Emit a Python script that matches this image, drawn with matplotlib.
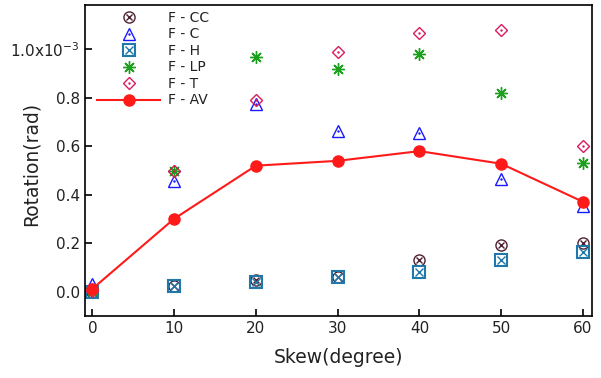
import matplotlib
matplotlib.use('Agg')
import matplotlib.pyplot as plt
from matplotlib.legend_handler import HandlerTuple
from matplotlib.ticker import FixedLocator

plt.rcParams['font.family'] = ['DejaVu Sans']
plt.rcParams['mathtext.default'] = 'regular'

skew = [0, 10, 20, 30, 40, 50, 60]
f_cc = [0.000, 0.022, 0.050, 0.060, 0.132, 0.193, 0.202]
f_c = [0.030, 0.455, 0.775, 0.664, 0.656, 0.466, 0.355]
f_h = [0.000, 0.022, 0.042, 0.060, 0.081, 0.131, 0.162]
f_lp = [0.005, 0.500, 0.970, 0.920, 0.980, 0.820, 0.530]
f_t = [0.005, 0.500, 0.790, 0.990, 1.068, 1.080, 0.602]
f_av = [0.012, 0.301, 0.520, 0.540, 0.580, 0.528, 0.371]

y_ticks = [0.0, 0.2, 0.4, 0.6, 0.8, 1.0]
y_tick_labels = ['0.0', '0.2', '0.4', '0.6', '0.8', r'1.0x10$^{-3}$']
x_ticks = [0, 10, 20, 30, 40, 50, 60]

c_cc = '#4d1f30'
c_c = '#1a1aff'
c_h = '#1f78a8'
c_lp = '#1aa01a'
c_t = '#d81b60'
c_av = '#ff1a1a'
c_text = '#222222'

fig = plt.figure(figsize=(6.01, 3.78), dpi=100)
ax = fig.add_axes([0.1414, 0.164, 0.8436, 0.823])

ms = 8
# F-CC: circle with x
cc1, = ax.plot(skew, f_cc, 'o', ms=ms, mfc='none', mec=c_cc, mew=1.0, ls='none')
cc2, = ax.plot(skew, f_cc, 'x', ms=ms * 0.55, mec=c_cc, mew=1.0, ls='none')
# F-C: triangle with dot
c1, = ax.plot(skew, f_c, '^', ms=ms, mfc='none', mec=c_c, mew=1.0, ls='none')
c2, = ax.plot(skew, f_c, '.', ms=1.5, mec=c_c, mfc=c_c, ls='none')
# F-H: square with x
h1, = ax.plot(skew, f_h, 's', ms=ms, mfc='none', mec=c_h, mew=1.5, ls='none')
h2, = ax.plot(skew, f_h, 'x', ms=ms * 0.7, mec=c_h, mew=1.0, ls='none')
# F-LP: asterisk
lp1, = ax.plot(skew, f_lp, marker=(8, 2, 0), ms=ms + 1, mec=c_lp, mew=1.0, ls='none')
# F-T: diamond with dot
t1, = ax.plot(skew, f_t, 'D', ms=ms * 0.8, mfc='none', mec=c_t, mew=1.0, ls='none')
t2, = ax.plot(skew, f_t, '.', ms=1.5, mec=c_t, mfc=c_t, ls='none')
# F-AV: line with filled circles
av, = ax.plot(skew, f_av, '-o', color=c_av, ms=ms, lw=1.5)

ax.set_xlim(-0.9, 61.1)
ax.set_ylim(-0.1, 1.183)
ax.xaxis.set_major_locator(FixedLocator(x_ticks))
ax.yaxis.set_major_locator(FixedLocator(y_ticks))
ax.set_yticklabels(y_tick_labels)
ax.tick_params(direction='in', length=5, width=1.2, labelsize=11, labelcolor=c_text,
               top=False, right=False)
for s in ax.spines.values():
    s.set_linewidth(1.2)

ax.set_xlabel('Skew(degree)', fontsize=13.5, color=c_text, labelpad=9)
ax.set_ylabel('Rotation(rad)', fontsize=13.5, color=c_text)
ax.yaxis.set_label_coords(-0.088, 0.49)

handles = [(cc1, cc2), (c1, c2), (h1, h2), (lp1,), (t1, t2), (av,)]
labels = ['F - CC', 'F - C', 'F - H', 'F - LP', 'F - T', 'F - AV']
leg = ax.legend(handles, labels, handler_map={tuple: HandlerTuple(ndivide=1)},
                loc='upper left', bbox_to_anchor=(0.0, 1.021), frameon=False,
                fontsize=10, handlelength=4.5, labelspacing=0.18, handletextpad=0.6)
for t in leg.get_texts():
    t.set_color(c_text)

fig.savefig('out.png', dpi=100)
